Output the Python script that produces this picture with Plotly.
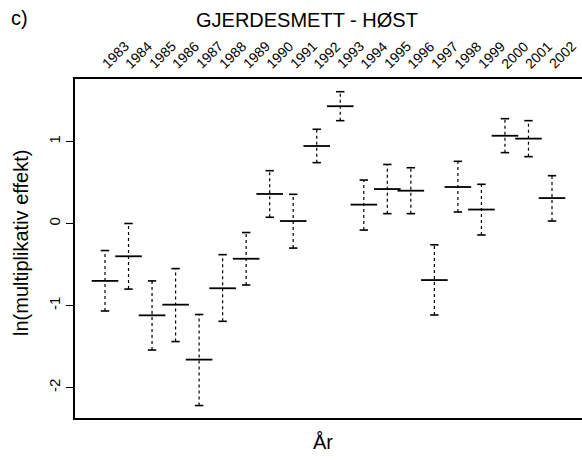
import plotly.graph_objects as go

years = list(range(1983, 2003))
estimate = [-0.70, -0.40, -1.12, -0.99, -1.66, -0.79, -0.43, 0.36, 0.03, 0.945,
            1.43, 0.23, 0.42, 0.40, -0.69, 0.445, 0.17, 1.07, 1.035, 0.31]
upper = [-0.33, 0.00, -0.70, -0.55, -1.11, -0.38, -0.11, 0.644, 0.356, 1.149,
         1.607, 0.53, 0.72, 0.68, -0.26, 0.758, 0.478, 1.278, 1.254, 0.583]
lower = [-1.067, -0.80, -1.543, -1.44, -2.22, -1.193, -0.75, 0.076, -0.30, 0.742,
         1.254, -0.08, 0.12, 0.12, -1.116, 0.14, -0.14, 0.864, 0.815, 0.03]
year_labels = [str(y) for y in years]
y_ticks = [-2, -1, 0, 1]

W, H = 582, 460
L, R, T, B = 75, 0, 79, 42
PW = W - L - R
PH = H - T - B
FONT = "Liberation Sans, Arial, sans-serif"

def px_x(px):
    return (px - L) / PW

def px_y(py):
    return 1 - (py - T) / PH

# vertical dotted segments
vx, vy = [], []
for x, lo, hi in zip(years, lower, upper):
    vx += [x, x, None]
    vy += [lo, hi, None]

fig = go.Figure()
fig.add_trace(go.Scatter(x=vx, y=vy, mode="lines",
                         line=dict(color="black", width=1.2, dash="dot"),
                         hoverinfo="skip", showlegend=False))
fig.add_trace(go.Scatter(x=years + years, y=upper + lower, mode="markers",
                         marker=dict(symbol="line-ew", size=6,
                                     line=dict(color="black", width=1.6)),
                         showlegend=False))
fig.add_trace(go.Scatter(x=years, y=estimate, mode="markers",
                         marker=dict(symbol="line-ew", size=19,
                                     line=dict(color="black", width=1.8)),
                         showlegend=False))

annotations = [
    dict(text="GJERDESMETT - HØST", xref="paper", yref="paper",
         x=px_x(307), y=px_y(20), xanchor="center", yanchor="middle",
         showarrow=False, font=dict(size=20, family=FONT)),
    dict(text="c)", xref="paper", yref="paper",
         x=px_x(9), y=px_y(18), xanchor="left", yanchor="middle",
         showarrow=False, font=dict(size=20, family=FONT)),
    dict(text="År", xref="paper", yref="paper",
         x=px_x(323), y=px_y(442), xanchor="center", yanchor="middle",
         showarrow=False, font=dict(size=20, family=FONT)),
    dict(text="ln(multiplikativ effekt)", xref="paper", yref="paper",
         x=px_x(21), y=px_y(243), xanchor="center", yanchor="middle",
         textangle=-90, showarrow=False, font=dict(size=20, family=FONT)),
]
for yr, lab in zip(years, year_labels):
    annotations.append(dict(text=lab, xref="x", yref="paper", x=yr, y=px_y(55),
                            xshift=10, xanchor="center", yanchor="middle",
                            textangle=-45, showarrow=False,
                            font=dict(size=14, family=FONT)))

fig.update_layout(
    width=W, height=H,
    margin=dict(l=L, r=R, t=T, b=B),
    paper_bgcolor="white", plot_bgcolor="white",
    font=dict(family=FONT, color="black"),
    xaxis=dict(side="top", range=[1981.725, 2003.275],
               showticklabels=False, ticks="", showgrid=False, zeroline=False,
               showline=True, mirror=True, linecolor="black", linewidth=1.5),
    yaxis=dict(range=[-2.372, 1.762], tickmode="array", tickvals=y_ticks,
               ticktext=[str(v) for v in y_ticks], tickangle=-90,
               tickfont=dict(size=15, family=FONT),
               ticks="outside", ticklen=7, tickwidth=1, tickcolor="black",
               showgrid=False, zeroline=False,
               showline=True, linecolor="black", linewidth=1.5),
    annotations=annotations,
)

fig.write_html("out.html")
